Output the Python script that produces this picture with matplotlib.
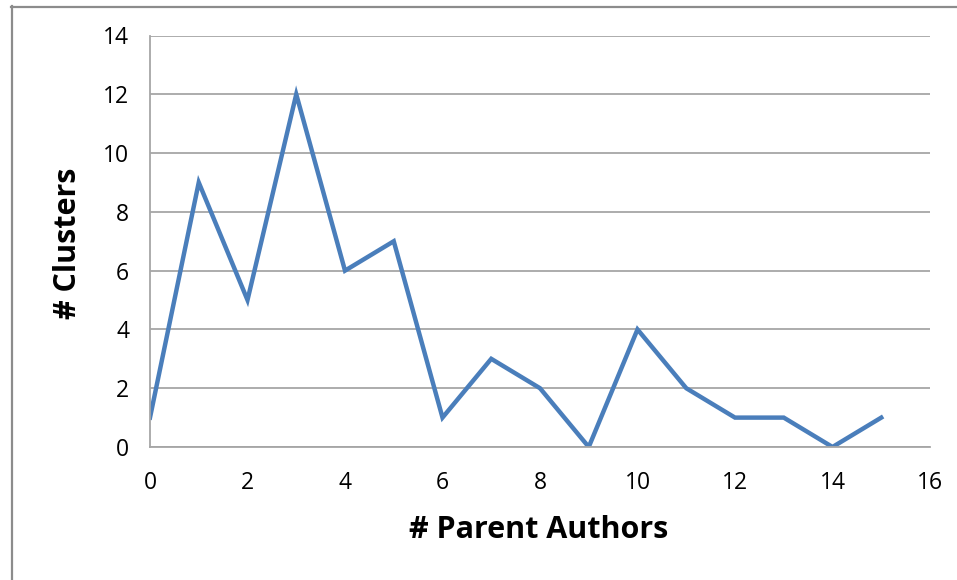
import matplotlib
matplotlib.use("Agg")
import matplotlib.pyplot as plt
from matplotlib.lines import Line2D

parent_authors = list(range(16))
clusters = [1, 9, 5, 12, 6, 7, 1, 3, 2, 0, 4, 2, 1, 1, 0, 1]
x_ticks = [0, 2, 4, 6, 8, 10, 12, 14, 16]
y_ticks = [0, 2, 4, 6, 8, 10, 12, 14]

W, H = 957, 580
fig = plt.figure(figsize=(W / 100, H / 100), dpi=100)
fig.patch.set_facecolor("white")

ax = fig.add_axes([150 / W, 1 - 447 / H, (930 - 150) / W, (447 - 35.5) / H])
ax.plot(parent_authors, clusters, color="#4A7EBB", lw=3.2, solid_joinstyle="miter")

ax.set_xlim(0, 16)
ax.set_ylim(0, 14)
ax.set_xticks(x_ticks)
ax.set_yticks(y_ticks)
ax.grid(axis="y", color="#A6A6A6", lw=1.3)
ax.set_axisbelow(True)
for s in ("top", "right"):
    ax.spines[s].set_visible(False)
for s in ("left", "bottom"):
    ax.spines[s].set_color("#A6A6A6")
    ax.spines[s].set_linewidth(1.3)
ax.tick_params(length=0, labelsize=16.5, colors="#000000")
ax.tick_params(axis="x", pad=17)
ax.tick_params(axis="y", pad=15)
for lab in ax.get_xticklabels() + ax.get_yticklabels():
    lab.set_fontfamily("Open Sans")

fig.text(539 / W, 1 - 530 / H, "# Parent Authors", ha="center", va="center",
         fontsize=22, fontweight="bold", family="Open Sans")
fig.text(68 / W, 1 - 243 / H, "# Clusters", ha="center", va="center",
         rotation=90, fontsize=22, fontweight="bold", family="Open Sans")

# frame lines along the top and left of the chart area
fig.add_artist(Line2D([11.5 / W, 11.5 / W], [0, 1 - 6 / H], transform=fig.transFigure,
                      color="#8C8C8C", lw=1.6))
fig.add_artist(Line2D([11 / W, 1], [1 - 6.5 / H, 1 - 6.5 / H], transform=fig.transFigure,
                      color="#8C8C8C", lw=1.6))

fig.savefig("out.png", dpi=100)
